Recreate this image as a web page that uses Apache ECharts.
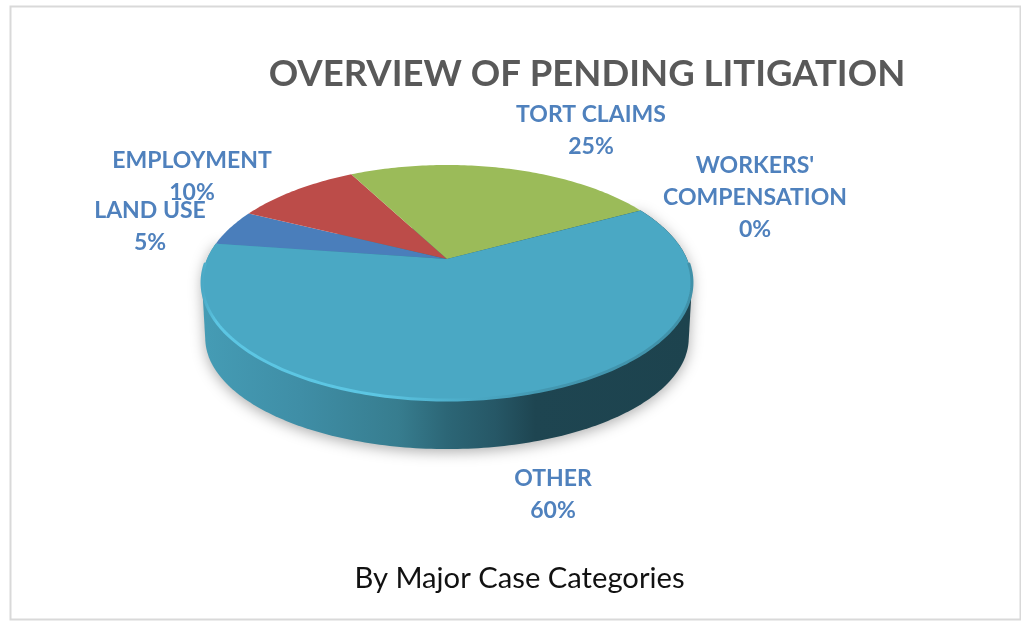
<!DOCTYPE html>
<html>
<head>
<meta charset="utf-8">
<style>html,body{margin:0;padding:0;background:#fff}#c{width:1021px;height:622px}</style>
<script src="https://cdn.jsdelivr.net/npm/echarts@6/dist/echarts.min.js"></script>
</head>
<body>
<div id="c"></div>
<script>
const categories = ['LAND USE', 'EMPLOYMENT', 'TORT CLAIMS', "WORKERS' COMPENSATION", 'OTHER'];
const values = [5, 10, 25, 0, 60];
const sliceColors = ['#4a7ebb', '#bc4c49', '#9bbb59', '#7d60a0', '#4aa8c4'];
const labelLines = [['LAND USE'], ['EMPLOYMENT'], ['TORT CLAIMS'], ["WORKERS'", 'COMPENSATION'], ['OTHER']];
const labelCenters = [[150, 227], [192, 177], [591, 131], [755, 198], [553, 495]];

const START = 172, TOTAL = values.reduce((a, b) => a + b, 0);
const top3d = { x: 447, y: 259, a: 240, b: 112.8, k: 0.2 };
const low3d = { x: 447, y: 314, a: 236, b: 105.8, k: 0.2167 };
function project(m, deg) {
  const t = deg * Math.PI / 180, u = Math.cos(t), v = Math.sin(t), w = 1 + m.k * v;
  return [m.x + m.a * u / w, m.y - m.b * v / w];
}
function sliceAngles(i) {
  let before = 0;
  for (let j = 0; j < i; j++) before += values[j];
  const s = START - before / TOTAL * 360;
  return [s, s - values[i] / TOTAL * 360];
}
function arc(m, from, to) {
  const n = Math.max(2, Math.ceil(Math.abs(to - from))), pts = [];
  for (let i = 0; i <= n; i++) pts.push(project(m, from + (to - from) * i / n));
  return pts;
}
function hull(points) {
  const p = points.slice().sort((a, b) => a[0] - b[0] || a[1] - b[1]);
  const cross = (o, a, b) => (a[0]-o[0])*(b[1]-o[1]) - (a[1]-o[1])*(b[0]-o[0]);
  const lo = [], up = [];
  for (const q of p) { while (lo.length > 1 && cross(lo[lo.length-2], lo[lo.length-1], q) <= 0) lo.pop(); lo.push(q); }
  for (const q of p.slice().reverse()) { while (up.length > 1 && cross(up[up.length-2], up[up.length-1], q) <= 0) up.pop(); up.push(q); }
  return lo.slice(0, -1).concat(up.slice(0, -1));
}
const hGrad = stops => ({ type: 'linear', x: 202, y: 0, x2: 692, y2: 0, global: true,
  colorStops: stops.map(s => ({ offset: s[0], color: s[1] })) });

const wallFill = hGrad([[0, '#459cb5'], [0.2, '#3f8ea6'], [0.4, '#377d8f'], [0.5, '#2c6676'],
  [0.6, '#265766'], [0.68, '#1e4551'], [1, '#1d434e']]);
const bevelStroke = hGrad([[0, '#4aa8c4'], [0.03, '#5cc6e3'], [0.36, '#5cc6e3'], [0.56, '#4aa8c4'],
  [0.7, '#4397b0'], [1, '#4091a9']]);

const font = 'Lato, "Open Sans", sans-serif';

const option = {
  backgroundColor: '#ffffff',
  animation: false,
  title: [
    { text: 'OVERVIEW OF PENDING LITIGATION', left: 582, top: 51, textAlign: 'center',
      textStyle: { fontFamily: font, fontSize: 36.5, fontWeight: 'bold', color: '#595959' } },
    { text: 'By Major Case Categories', left: 514.5, top: 559, textAlign: 'center',
      textStyle: { fontFamily: font, fontSize: 29.2, fontWeight: 'normal', color: '#111111' } }
  ],
  graphic: [{ type: 'rect', z: -1, silent: true,
    shape: { x: 10.5, y: 6.5, width: 1010, height: 613 },
    style: { fill: '#ffffff', stroke: '#d9d9d9', lineWidth: 2 } }],
  series: [
    { type: 'custom', coordinateSystem: 'none', z: 2, silent: true,
      data: [[4, values[4]]],
      renderItem(params, api) {
        const [s, e] = sliceAngles(api.value(0));
        const pts = hull(arc(top3d, s, e).concat(arc(low3d, s, e)));
        return { type: 'polygon', shape: { points: pts },
          style: { fill: wallFill, shadowBlur: 14, shadowColor: 'rgba(0,0,0,0.32)', shadowOffsetY: 3 } };
      } },
    { type: 'custom', coordinateSystem: 'none', z: 3, silent: true,
      data: values.map((v, i) => [i, v]),
      renderItem(params, api) {
        const i = api.value(0), v = api.value(1);
        const [s, e] = sliceAngles(i);
        const children = [];
        if (v > 0) {
          children.push({ type: 'polygon',
            shape: { points: [[top3d.x, top3d.y]].concat(arc(top3d, s, e)) },
            style: { fill: sliceColors[i] } });
        }
        return { type: 'group', children };
      } },
    { type: 'custom', coordinateSystem: 'none', z: 4, silent: true,
      data: [[4]],
      renderItem() {
        return { type: 'polyline', shape: { points: arc(top3d, -178, -2) },
          style: { fill: 'none', stroke: bevelStroke, lineWidth: 3 } };
      } },
    { type: 'custom', coordinateSystem: 'none', z: 5, silent: true,
      data: values.map((v, i) => [i, v]),
      renderItem(params, api) {
        const i = api.value(0), v = api.value(1);
        return { type: 'text', x: labelCenters[i][0], y: labelCenters[i][1],
          style: { text: labelLines[i].concat([v + '%']).join('\n'), align: 'center', verticalAlign: 'middle',
            font: 'bold 23px ' + font, lineHeight: 32, fill: '#4f81bd' } };
      } }
  ]
};
const chart = echarts.init(document.getElementById('c'), null, { renderer: 'canvas' });
chart.setOption(option);
</script>
</body>
</html>
